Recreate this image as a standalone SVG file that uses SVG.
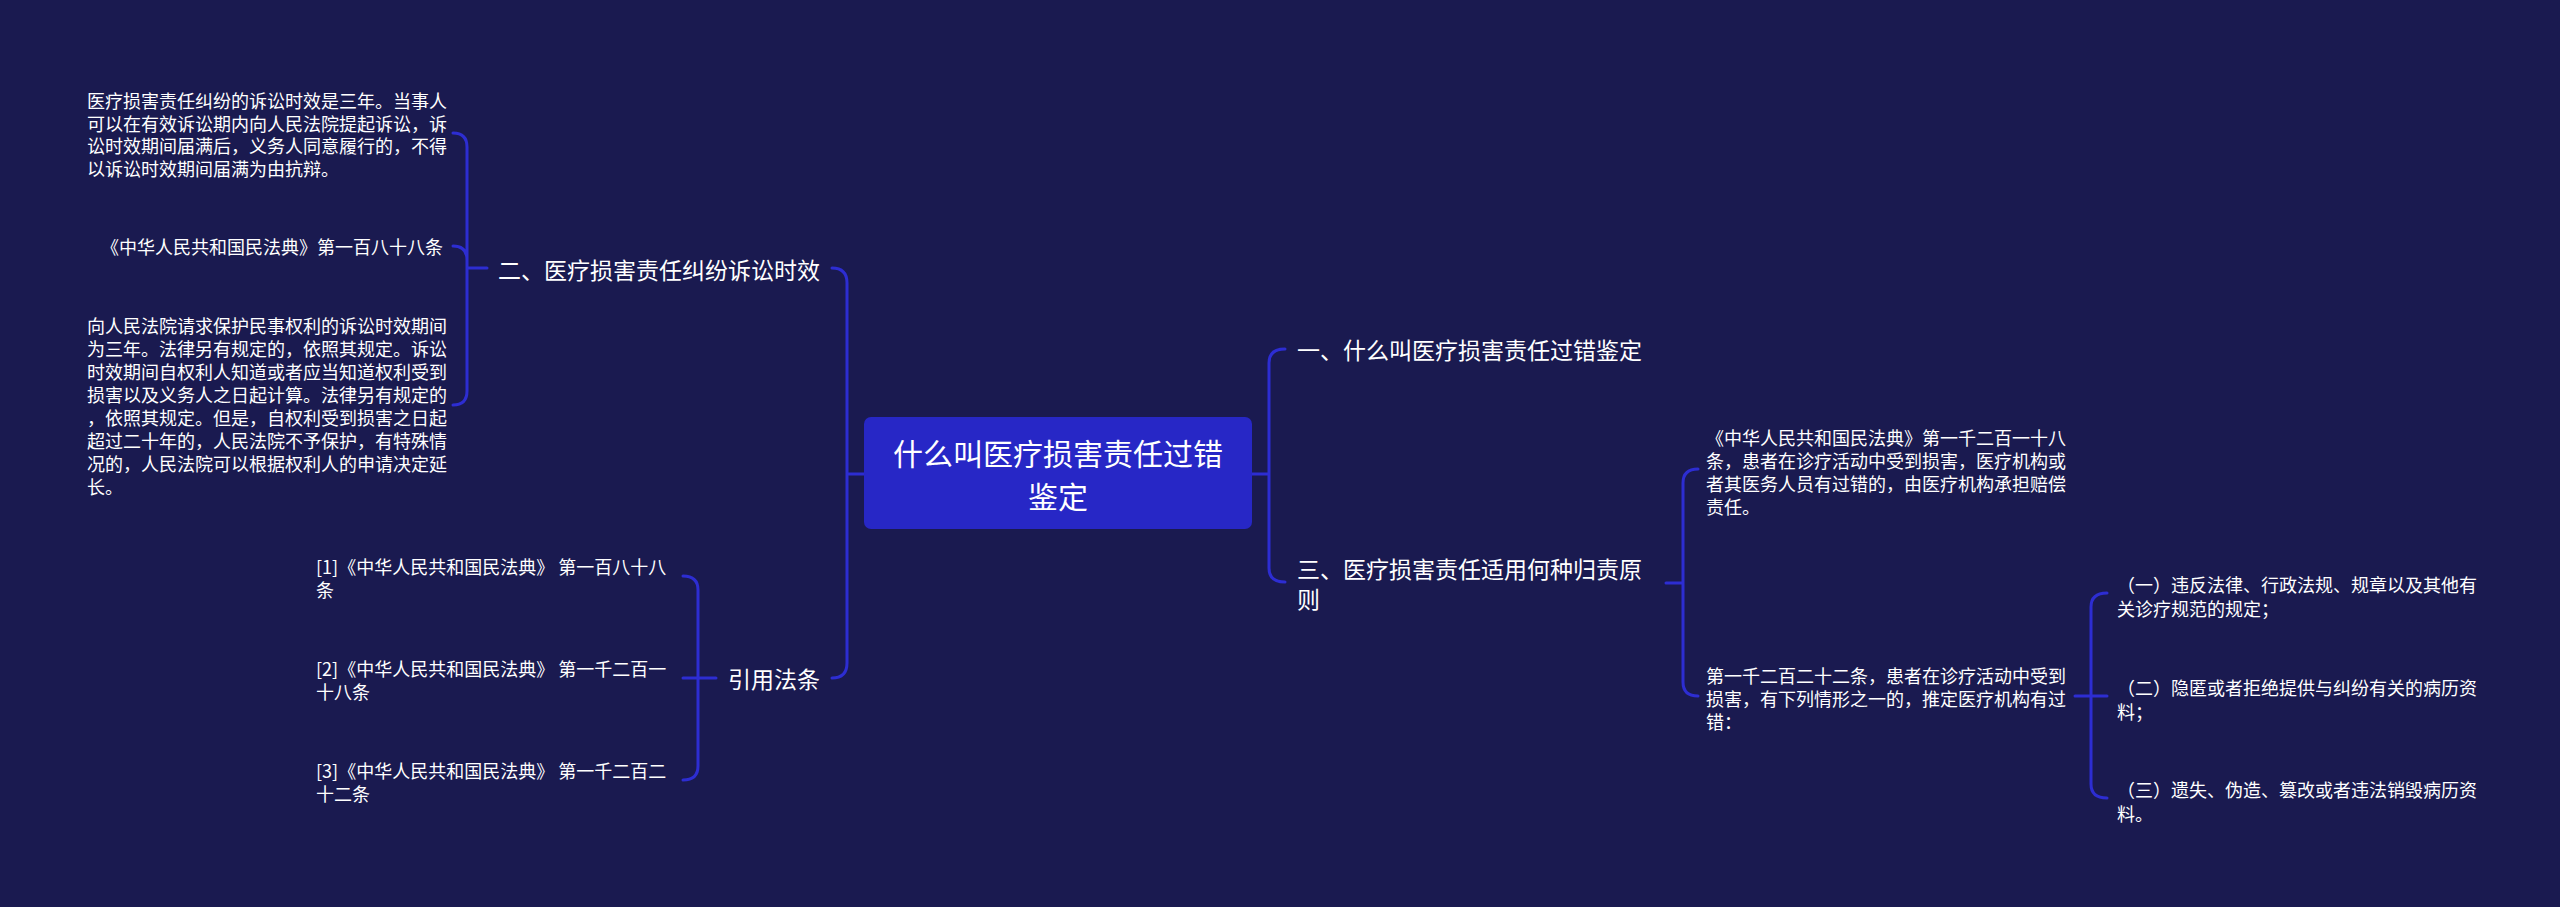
<svg xmlns="http://www.w3.org/2000/svg" width="2560" height="907" viewBox="0 0 2560 907">
<style>
.bg{fill:#1a1a50}
.ln{fill:none;stroke:#2d2dd2;stroke-width:3;stroke-linecap:round}
text{font-family:"Noto Sans CJK SC","Noto Sans",sans-serif;fill:#ffffff;dominant-baseline:central}
.t18{font-size:18px}
.t23{font-size:23px}
.t30{font-size:30px}
</style>
<rect class="bg" x="0" y="0" width="2560" height="907"/>
<g id="connectors">
<path class="ln" d="M864,474 H847 M832,268 Q847,268 847,283 V663 Q847,678 832,678"/>
<path class="ln" d="M487,268 H467 M453,133 Q467,133 467,147 V391 Q467,405 453,405 M453,246 Q467,246 467,260"/>
<path class="ln" d="M716,678 H683 M683,576 Q698,576 698,590 V766 Q698,780 683,780"/>
<path class="ln" d="M1252,474 H1269 M1285,349 Q1269,349 1269,363 V568 Q1269,582 1285,582"/>
<path class="ln" d="M1666,583 H1683 M1698,469 Q1683,469 1683,483 V682 Q1683,696 1698,696"/>
<path class="ln" d="M2075,696 H2107 M2107,593 Q2091,593 2091,607 V784 Q2091,798 2107,798"/>
</g>
<g id="root">
<rect x="864" y="417" width="388" height="112" rx="7" fill="#2727c6"/>
<text class="t30" x="1058" y="452" text-anchor="middle">什么叫医疗损害责任过错</text>
<text class="t30" x="1058" y="495" text-anchor="middle">鉴定</text>
</g>
<g id="n-left-1">
<text class="t23" x="820" y="269" text-anchor="end">二、医疗损害责任纠纷诉讼时效</text>
</g>
<g id="n-left-1-a">
<text class="t18" x="87" y="100">医疗损害责任纠纷的诉讼时效是三年。当事人</text>
<text class="t18" x="87" y="122.5">可以在有效诉讼期内向人民法院提起诉讼，诉</text>
<text class="t18" x="87" y="145">讼时效期间届满后，义务人同意履行的，不得</text>
<text class="t18" x="87" y="167.5">以诉讼时效期间届满为由抗辩。</text>
</g>
<g id="n-left-1-b">
<text class="t18" x="443" y="246" text-anchor="end">《中华人民共和国民法典》第一百八十八条</text>
</g>
<g id="n-left-1-c">
<text class="t18" x="87" y="325">向人民法院请求保护民事权利的诉讼时效期间</text>
<text class="t18" x="87" y="348">为三年。法律另有规定的，依照其规定。诉讼</text>
<text class="t18" x="87" y="371">时效期间自权利人知道或者应当知道权利受到</text>
<text class="t18" x="87" y="394">损害以及义务人之日起计算。法律另有规定的</text>
<text class="t18" x="87" y="417">，依照其规定。但是，自权利受到损害之日起</text>
<text class="t18" x="87" y="440">超过二十年的，人民法院不予保护，有特殊情</text>
<text class="t18" x="87" y="463">况的，人民法院可以根据权利人的申请决定延</text>
<text class="t18" x="87" y="486">长。</text>
</g>
<g id="n-left-2">
<text class="t23" x="820" y="678" text-anchor="end">引用法条</text>
</g>
<g id="n-left-2-a">
<text class="t18" x="316" y="566">[1]《中华人民共和国民法典》 第一百八十八</text>
<text class="t18" x="316" y="589">条</text>
</g>
<g id="n-left-2-b">
<text class="t18" x="316" y="668">[2]《中华人民共和国民法典》 第一千二百一</text>
<text class="t18" x="316" y="691">十八条</text>
</g>
<g id="n-left-2-c">
<text class="t18" x="316" y="770">[3]《中华人民共和国民法典》 第一千二百二</text>
<text class="t18" x="316" y="793">十二条</text>
</g>
<g id="n-right-1">
<text class="t23" x="1297" y="349">一、什么叫医疗损害责任过错鉴定</text>
</g>
<g id="n-right-2">
<text class="t23" x="1297" y="568">三、医疗损害责任适用何种归责原</text>
<text class="t23" x="1297" y="598">则</text>
</g>
<g id="n-right-2-a">
<text class="t18" x="1706" y="437">《中华人民共和国民法典》第一千二百一十八</text>
<text class="t18" x="1706" y="460">条，患者在诊疗活动中受到损害，医疗机构或</text>
<text class="t18" x="1706" y="483">者其医务人员有过错的，由医疗机构承担赔偿</text>
<text class="t18" x="1706" y="506">责任。</text>
</g>
<g id="n-right-2-b">
<text class="t18" x="1706" y="675">第一千二百二十二条，患者在诊疗活动中受到</text>
<text class="t18" x="1706" y="698">损害，有下列情形之一的，推定医疗机构有过</text>
<text class="t18" x="1706" y="721">错：</text>
</g>
<g id="n-right-2-b-1">
<text class="t18" x="2117" y="584">（一）违反法律、行政法规、规章以及其他有</text>
<text class="t18" x="2117" y="608">关诊疗规范的规定；</text>
</g>
<g id="n-right-2-b-2">
<text class="t18" x="2117" y="687">（二）隐匿或者拒绝提供与纠纷有关的病历资</text>
<text class="t18" x="2117" y="711">料；</text>
</g>
<g id="n-right-2-b-3">
<text class="t18" x="2117" y="789">（三）遗失、伪造、篡改或者违法销毁病历资</text>
<text class="t18" x="2117" y="813">料。</text>
</g>
</svg>
